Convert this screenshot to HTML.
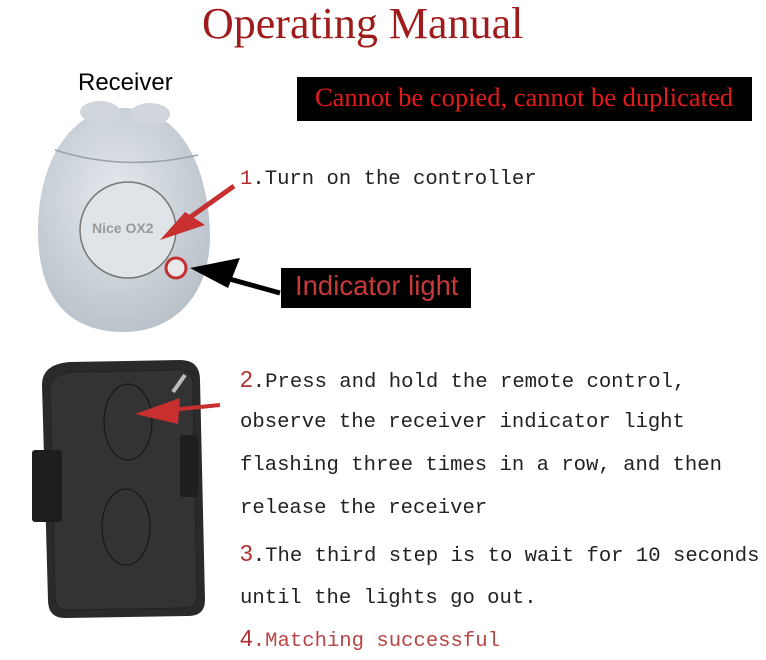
<!DOCTYPE html>
<html><head><style>
body{margin:0;width:766px;height:660px;background:#fff;position:relative;overflow:hidden;font-family:"Liberation Serif",serif}
.t{position:absolute;white-space:nowrap}
.m{font-family:"Liberation Mono",monospace;font-size:20.6px;color:#222}
.r{color:#b03030;font-family:"Liberation Sans",sans-serif;font-size:23px}
</style></head><body>
<svg width="766" height="660" style="position:absolute;left:0;top:0">
<defs><radialGradient id="g" cx="45%" cy="40%" r="65%"><stop offset="0" stop-color="#e4e9ee"/><stop offset="1" stop-color="#b8c0c8"/></radialGradient></defs>
<path d="M124 108 C185 108 210 175 210 240 C208 300 170 332 124 332 C70 332 38 300 38 230 C38 165 68 108 124 108Z" fill="url(#g)"/>
<ellipse cx="100" cy="112" rx="20" ry="11" fill="#d0d6dc"/>
<ellipse cx="150" cy="114" rx="20" ry="11" fill="#d0d6dc"/>
<path d="M55 150 Q124 172 198 155" stroke="#9aa2aa" stroke-width="1.5" fill="none"/>
<circle cx="128" cy="230" r="48" fill="#dfe4e9" stroke="#777" stroke-width="1.5"/>
<text x="92" y="233" font-family="Liberation Sans" font-weight="bold" font-size="14" fill="#999">Nice OX2</text>
<circle cx="176" cy="268" r="10" fill="#e8e8e8" stroke="#c03030" stroke-width="3"/>
<line x1="234" y1="186" x2="175" y2="228" stroke="#c83030" stroke-width="5"/>
<polygon points="160,240 185,212 205,225" fill="#c83030"/>
<line x1="280" y1="293" x2="215" y2="275" stroke="#000" stroke-width="5"/>
<polygon points="190,268 240,258 228,288" fill="#000"/>
<rect x="281" y="268" width="190" height="40" fill="#000"/>
<rect x="297" y="77" width="455" height="44" fill="#000"/>
<path d="M70 362 L180 360 Q200 360 200 380 L205 600 Q205 616 188 616 L65 618 Q48 618 48 600 L42 385 Q42 364 70 362Z" fill="#2a2a2a"/>
<path d="M75 372 L178 370 Q193 370 193 385 L197 596 Q197 608 184 608 L68 610 Q55 610 55 596 L50 390 Q50 373 75 372Z" fill="#333" stroke="#222"/>
<ellipse cx="128" cy="422" rx="24" ry="38" fill="#333" stroke="#111"/>
<ellipse cx="126" cy="527" rx="24" ry="38" fill="#333" stroke="#111"/>
<rect x="32" y="450" width="30" height="72" rx="3" fill="#1e1e1e"/>
<rect x="180" y="435" width="18" height="62" rx="3" fill="#1e1e1e"/>
<line x1="173" y1="392" x2="185" y2="375" stroke="#bbb" stroke-width="4"/>
<line x1="220" y1="405" x2="170" y2="410" stroke="#c83030" stroke-width="4"/>
<polygon points="135,414 180,398 178,424" fill="#c83030"/>
</svg>
<div class="t" style="left:202px;top:-2px;font-size:44px;color:#a01c1c">Operating Manual</div>
<div class="t" style="left:78px;top:69px;font-family:'Liberation Sans',sans-serif;font-size:24px;color:#000">Receiver</div>
<div class="t" style="left:315px;top:82px;font-size:26.5px;color:#e41a1a">Cannot be copied, cannot be duplicated</div>
<div class="t" style="left:295px;top:270px;font-family:'Liberation Sans',sans-serif;font-size:27.5px;color:#c83a3a">Indicator light</div>
<div class="t m" style="left:240px;top:168px"><span style="color:#b03030">1</span>.Turn on the controller</div>
<div class="t m" style="left:240px;top:366px"><span class="r">2</span>.Press and hold the remote control,</div>
<div class="t m" style="left:240px;top:411px">observe the receiver indicator light</div>
<div class="t m" style="left:240px;top:454px">flashing three times in a row, and then</div>
<div class="t m" style="left:240px;top:497px">release the receiver</div>
<div class="t m" style="left:240px;top:540px"><span class="r">3</span>.The third step is to wait for 10 seconds</div>
<div class="t m" style="left:240px;top:587px">until the lights go out.</div>
<div class="t m" style="left:240px;top:625px;color:#b84545"><span class="r">4</span>.Matching successful</div>
</body></html>
